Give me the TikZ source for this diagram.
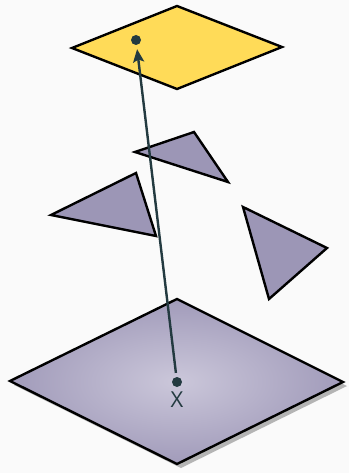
\documentclass[tikz,border=0pt]{standalone}
\usepackage{fontspec}
\setmainfont{Open Sans}
\usetikzlibrary{arrows.meta}
\definecolor{bg}{HTML}{FAFAFA}
\definecolor{gold}{HTML}{FFDB58}
\definecolor{tri}{HTML}{9C96B6}
\definecolor{planein}{HTML}{CBC7DA}
\definecolor{planeout}{HTML}{A19BBA}
\definecolor{slate}{HTML}{233A40}
\definecolor{shadowc}{HTML}{B4B4B4}
\tikzset{
  outline/.style={draw=black, line width=2.4pt, line join=miter},
  tribox/.style={outline, fill=tri},
  dotnode/.style={circle, fill=slate, inner sep=0pt, minimum size=10pt},
  ray/.style={draw=slate, line width=2.4pt, -{Stealth[length=13pt,width=11pt,inset=2.5pt]}},
}
\begin{document}
\begin{tikzpicture}[x=1pt,y=-1pt]
\fill[bg] (0,0) rectangle (349,473);
\useasboundingbox (0,0) rectangle (349,473);
% bottom plane shadow
\fill[shadowc] (14,385) -- (181,303) -- (347,386) -- (181,468) -- cycle;
% bottom plane
\shade[inner color=planein, outer color=planeout] (10,381) -- (177,299) -- (343,382) -- (177,464) -- cycle;
\draw[outline] (10,381) -- (177,299) -- (343,382) -- (177,464) -- cycle;
% top plane
\filldraw[outline, fill=gold] (72,48) -- (177,6) -- (282,47) -- (177,89) -- cycle;
% triangles
\filldraw[tribox] (135,152) -- (194,132) -- (228,182) -- cycle;
\filldraw[tribox] (51,215) -- (136,173) -- (156,236) -- cycle;
\filldraw[tribox] (243,207) -- (327,248) -- (269,299) -- cycle;
% points
\node[dotnode] (x) at (177,382) {};
\node[dotnode] (y) at (136,40) {};
\node[text=slate, font=\fontsize{22}{26}\selectfont, anchor=north] (xl) at (177,388) {X};
\draw[ray, shorten >=4pt, shorten <=4pt] (x) -- (y);
\end{tikzpicture}
\end{document}
